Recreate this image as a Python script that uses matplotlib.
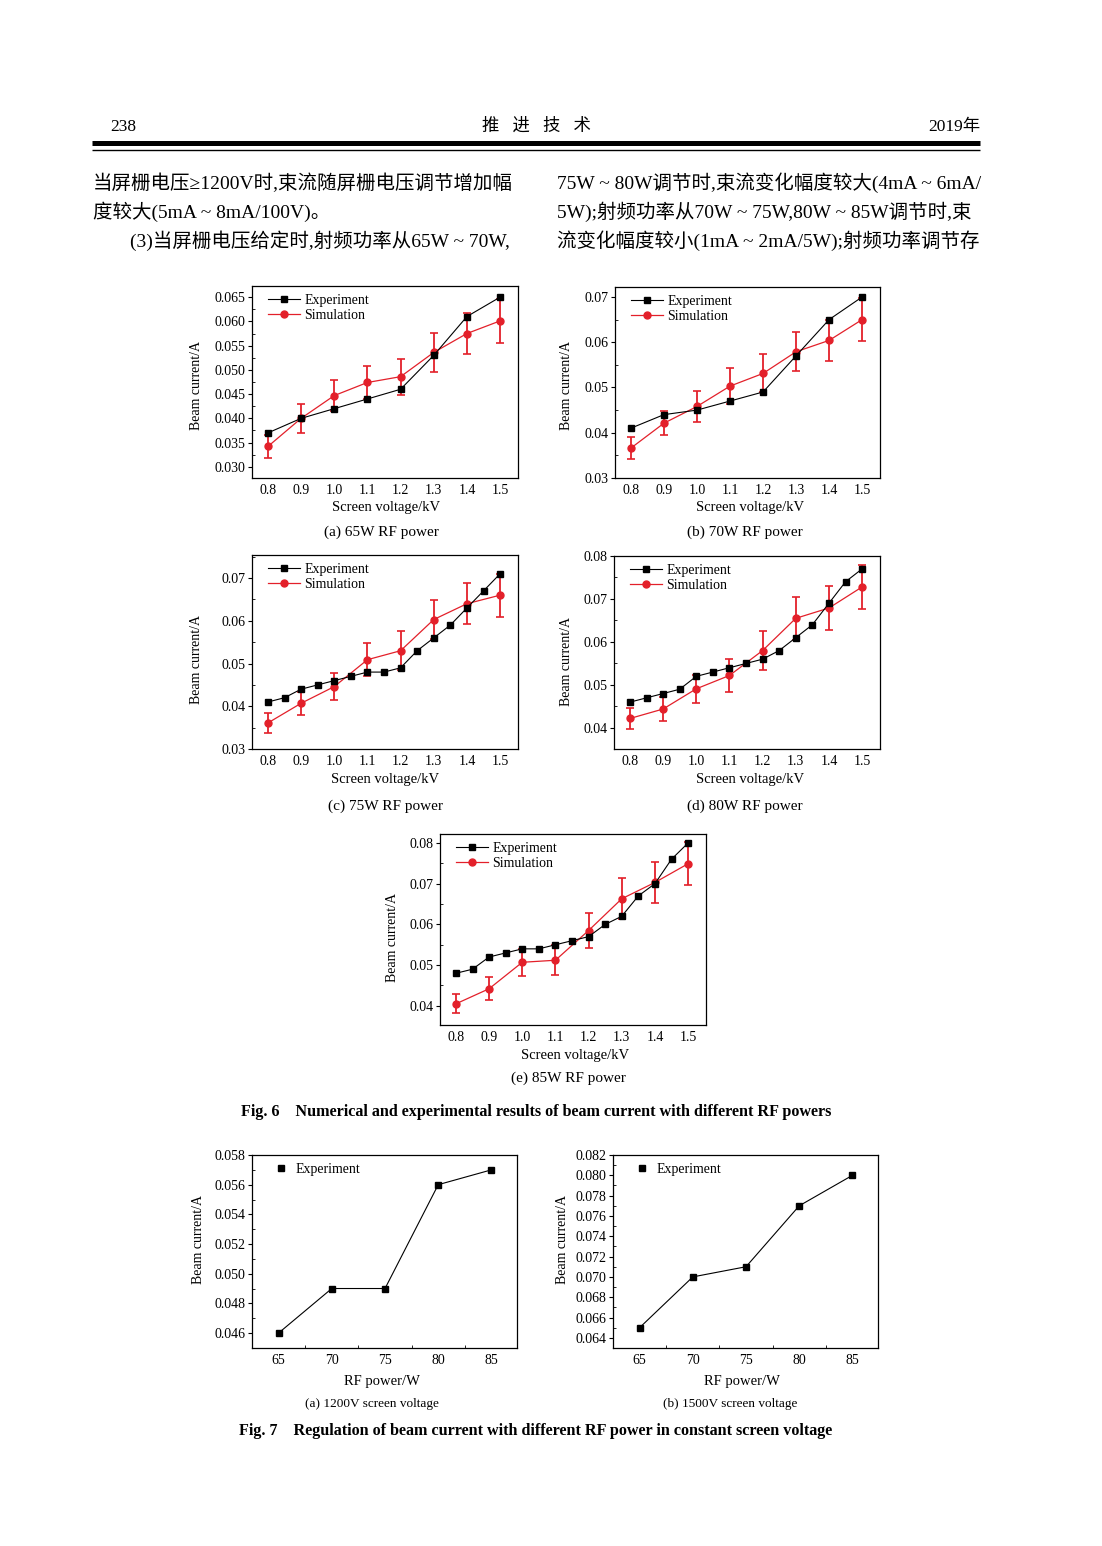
import matplotlib
matplotlib.use('Agg')
import matplotlib.pyplot as plt
from matplotlib.lines import Line2D
from matplotlib.ticker import MultipleLocator, FormatStrFormatter

# ---- data ----
volt = [0.8, 0.9, 1.0, 1.1, 1.2, 1.3, 1.4, 1.5]
volt_fine = [0.80, 0.85, 0.90, 0.95, 1.00, 1.05, 1.10, 1.15,
             1.20, 1.25, 1.30, 1.35, 1.40, 1.45, 1.50]

exp_65 = [0.037, 0.040, 0.042, 0.044, 0.046, 0.053, 0.061, 0.065]
sim_65 = [0.0342, 0.0400, 0.0447, 0.0474, 0.0486, 0.0536, 0.0575, 0.0601]
err_65 = [0.0024, 0.0030, 0.0032, 0.0034, 0.0037, 0.0040, 0.0042, 0.0045]

exp_70 = [0.041, 0.044, 0.045, 0.047, 0.049, 0.057, 0.065, 0.070]
sim_70 = [0.0366, 0.0421, 0.0458, 0.0503, 0.0531, 0.0579, 0.0604, 0.0650]
err_70 = [0.0025, 0.0027, 0.0034, 0.0039, 0.0042, 0.0043, 0.0045, 0.0047]

exp_75 = [0.041, 0.042, 0.044, 0.045, 0.046, 0.047, 0.048, 0.048,
          0.049, 0.053, 0.056, 0.059, 0.063, 0.067, 0.071]
sim_75 = [0.0361, 0.0407, 0.0446, 0.0509, 0.0530, 0.0603, 0.0640, 0.0660]
err_75 = [0.0024, 0.0027, 0.0032, 0.0039, 0.0045, 0.0046, 0.0048, 0.0050]

exp_80 = [0.046, 0.047, 0.048, 0.049, 0.052, 0.053, 0.054, 0.055,
          0.056, 0.058, 0.061, 0.064, 0.069, 0.074, 0.077]
sim_80 = [0.0422, 0.0444, 0.0491, 0.0522, 0.0580, 0.0655, 0.0679, 0.0728]
err_80 = [0.0024, 0.0028, 0.0032, 0.0039, 0.0045, 0.0050, 0.0051, 0.0051]

exp_85 = [0.048, 0.049, 0.052, 0.053, 0.054, 0.054, 0.055, 0.056,
          0.057, 0.060, 0.062, 0.067, 0.070, 0.076, 0.080]
sim_85 = [0.0405, 0.0442, 0.0507, 0.0512, 0.0585, 0.0663, 0.0703, 0.0749]
err_85 = [0.0023, 0.0028, 0.0033, 0.0037, 0.0043, 0.0050, 0.0051, 0.0053]

power = [65, 70, 75, 80, 85]
exp_1200v = [0.046, 0.049, 0.049, 0.056, 0.057]
exp_1500v = [0.065, 0.070, 0.071, 0.077, 0.080]

RED = '#e3202a'
SERIF = 'Liberation Serif'
CJK = ['Liberation Serif', 'Noto Sans CJK SC']

W, H = 1102, 1546
fig = plt.figure(figsize=(W / 100, H / 100), dpi=100)
plt.rcParams['font.family'] = SERIF


def px_text(x, y, s, size=10, ha='center', **kw):
    kw.setdefault('family', SERIF)
    fig.text(x / W, 1 - y / H, s, fontsize=size, ha=ha, va='center', **kw)


def add_box(x0, y0, x1, y1):
    return fig.add_axes([x0 / W, 1 - y1 / H, (x1 - x0) / W, (y1 - y0) / H])


def style_axes(ax, ymajor, fmt):
    ax.yaxis.set_major_locator(MultipleLocator(ymajor))
    ax.yaxis.set_minor_locator(MultipleLocator(ymajor / 2))
    ax.yaxis.set_major_formatter(FormatStrFormatter(fmt))
    ax.tick_params(axis='y', which='major', direction='out', length=3,
                   width=0.8, pad=1.5, labelsize=10)
    ax.tick_params(axis='y', which='minor', direction='in', length=2, width=0.6)
    ax.tick_params(axis='x', which='major', length=0, pad=4, labelsize=10)
    for sp in ax.spines.values():
        sp.set_linewidth(0.9)


def voltage_panel(rect, exp_x, exp_y, sim_y, sim_err, ylim, ymajor, fmt):
    ax = add_box(*rect)
    ax.plot(exp_x, exp_y, '-s', color='black', ms=4.5, lw=0.8,
            label='Experiment', zorder=3)
    ax.errorbar(volt, sim_y, yerr=sim_err, fmt='none', ecolor=RED,
                elinewidth=1.3, capsize=2.8, capthick=1.2, zorder=2)
    ax.plot(volt, sim_y, '-o', color=RED, ms=5, lw=0.9,
            label='Simulation', zorder=2)
    ax.set_xlim(0.752, 1.554)
    ax.set_ylim(*ylim)
    ax.set_xticks(volt)
    ax.set_xticklabels(['%.1f' % v for v in volt])
    style_axes(ax, ymajor, fmt)
    ax.legend(loc='upper left', bbox_to_anchor=(0.03, 1.0), frameon=False,
              fontsize=10, handlelength=2.3, handletextpad=0.3,
              labelspacing=0.1, borderaxespad=0.2)
    return ax


def power_panel(rect, y, ylim, yticks):
    ax = add_box(*rect)
    ax.plot(power, y, '-', color='black', lw=0.8)
    ax.plot(power, y, 's', color='black', ms=4.5, label='Experiment')
    ax.set_xlim(62.5, 87.4)
    ax.set_ylim(*ylim)
    ax.set_xticks(power)
    ax.set_yticks(yticks)
    style_axes(ax, 0.002, '%.3f')
    ax.xaxis.set_minor_locator(MultipleLocator(2.5))
    ax.tick_params(axis='x', which='minor', direction='in', length=2, width=0.6)
    ax.legend(loc='upper left', bbox_to_anchor=(0.05, 1.0), frameon=False,
              fontsize=10, handlelength=1.0, handletextpad=0.6,
              numpoints=1, borderaxespad=0.2)
    return ax


# ---- page header ----
px_text(110, 127, '238', size=12.5, ha='left')
px_text(536, 127, '推   进   技   术', size=12.5, family=CJK)
px_text(980, 127, '2019年', size=12.5, ha='right', family=CJK)
fig.add_artist(Line2D([92 / W, 980 / W], [1 - 142.5 / H] * 2,
                      color='black', lw=3.6, solid_capstyle='butt'))
fig.add_artist(Line2D([92 / W, 980 / W], [1 - 149.5 / H] * 2,
                      color='black', lw=1.0, solid_capstyle='butt'))

# ---- body text ----
body_left = ['当屏栅电压≥1200V时,束流随屏栅电压调节增加幅',
             '度较大(5mA ~ 8mA/100V)。',
             '(3)当屏栅电压给定时,射频功率从65W ~ 70W,']
body_right = ['75W ~ 80W调节时,束流变化幅度较大(4mA ~ 6mA/',
              '5W);射频功率从70W ~ 75W,80W ~ 85W调节时,束',
              '流变化幅度较小(1mA ~ 2mA/5W);射频功率调节存']
rows = [183, 212, 241]
for i, s in enumerate(body_left):
    px_text(130 if i == 2 else 93, rows[i], s, size=14, ha='left', family=CJK)
for i, s in enumerate(body_right):
    px_text(557, rows[i], s, size=14, ha='left', family=CJK)

# ---- Fig. 6 ----
voltage_panel((252, 286, 518, 478), volt, exp_65, sim_65, err_65,
              (0.0277, 0.0673), 0.005, '%.3f')
voltage_panel((615, 287, 880, 478), volt, exp_70, sim_70, err_70,
              (0.030, 0.0722), 0.01, '%.2f')
voltage_panel((252, 555, 518, 749), volt_fine, exp_75, sim_75, err_75,
              (0.030, 0.0754), 0.01, '%.2f')
voltage_panel((614, 556, 880, 749), volt_fine, exp_80, sim_80, err_80,
              (0.0351, 0.080), 0.01, '%.2f')
voltage_panel((440, 834, 706, 1025), volt_fine, exp_85, sim_85, err_85,
              (0.0353, 0.0822), 0.01, '%.2f')

labels6 = [(197, 385, 386, 508, 381, 532, '(a) 65W RF power'),
           (567, 385, 750, 508, 745, 532, '(b) 70W RF power'),
           (197, 660, 385, 780, 385, 806, '(c) 75W RF power'),
           (567, 662, 750, 780, 745, 806, '(d) 80W RF power'),
           (393, 937, 575, 1056, 568, 1078, '(e) 85W RF power')]
for yx, yy, xx, xy, cx, cy, cap in labels6:
    px_text(yx, yy, 'Beam current/A', size=10, rotation=90)
    px_text(xx, xy, 'Screen voltage/kV', size=10.5)
    px_text(cx, cy, cap, size=11)

px_text(536, 1112, 'Fig. 6    Numerical and experimental results of beam '
        'current with different RF powers', size=11.6, weight='bold')

# ---- Fig. 7 ----
power_panel((252, 1155, 517, 1348), exp_1200v, (0.04499, 0.058),
            [0.046, 0.048, 0.050, 0.052, 0.054, 0.056, 0.058])
power_panel((613, 1155, 878, 1348), exp_1500v, (0.0630, 0.082),
            [0.064, 0.066, 0.068, 0.070, 0.072, 0.074, 0.076, 0.078,
             0.080, 0.082])

for yx, xx, cx, cap in [(198, 382, 372, '(a) 1200V screen voltage'),
                        (562, 742, 730, '(b) 1500V screen voltage')]:
    px_text(yx, 1240, 'Beam current/A', size=10, rotation=90)
    px_text(xx, 1381, 'RF power/W', size=10.5)
    px_text(cx, 1404, cap, size=9.5)

px_text(536, 1431, 'Fig. 7    Regulation of beam current with different RF '
        'power in constant screen voltage', size=11.6, weight='bold')

fig.savefig('out.png', dpi=100, facecolor='white')
